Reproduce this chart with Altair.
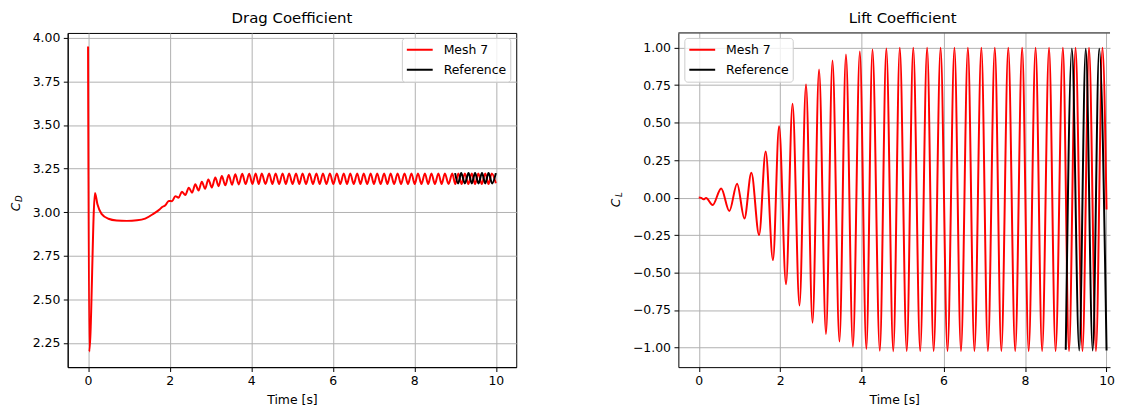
import altair as alt
import pandas as pd

FONT = "DejaVu Sans"

# ---------------- data ----------------
series_names = ["Mesh 7", "Reference"]
series_colors = ["#ff0000", "#000000"]

x_ticks = [0, 2, 4, 6, 8, 10]
drag_ticks = [2.25, 2.50, 2.75, 3.00, 3.25, 3.50, 3.75, 4.00]
lift_ticks = [-1.00, -0.75, -0.50, -0.25, 0.00, 0.25, 0.50, 0.75, 1.00]

# Drag coefficient, Mesh 7: turning points of the curve (time [s])
drag_time = [
    0.00, 0.03, 0.17, 0.23, 0.33, 0.50, 0.70, 0.95, 1.20, 1.40, 1.60, 1.76,
    1.81, 1.895, 1.98, 2.06, 2.14, 2.22, 2.30, 2.385, 2.47, 2.55,
    2.63, 2.71, 2.79, 2.87, 2.95, 3.035, 3.12, 3.20, 3.28, 3.365,
    3.45, 3.53, 3.61, 3.695, 3.78, 3.865, 3.95, 4.03, 4.11, 4.185,
    4.26, 4.35, 4.44, 4.52, 4.60, 4.685, 4.77, 4.85, 4.93, 5.015,
    5.10, 5.18, 5.26, 5.345, 5.43, 5.515, 5.60, 5.68, 5.76, 5.845,
    5.93, 6.015, 6.10, 6.185, 6.27, 6.35, 6.43, 6.515, 6.60, 6.68,
    6.76, 6.845, 6.93, 7.01, 7.09, 7.175, 7.26, 7.34, 7.42, 7.505,
    7.59, 7.675, 7.76, 7.845, 7.93, 8.01, 8.09, 8.175, 8.26, 8.34,
    8.42, 8.505, 8.59, 8.67, 8.75, 8.84, 8.93, 9.005, 9.08, 9.16,
    9.24, 9.325, 9.41, 9.49, 9.57, 9.655, 9.74, 9.82, 9.90, 10.00,
]
drag_mesh7 = [
    3.95, 2.20, 3.11, 3.045, 2.99, 2.962, 2.952, 2.950, 2.953, 2.963, 2.99, 3.017,
    3.028, 3.039, 3.064, 3.063, 3.092, 3.083, 3.117, 3.099, 3.140, 3.112,
    3.160, 3.124, 3.175, 3.134, 3.188, 3.142, 3.199, 3.149, 3.207, 3.154,
    3.213, 3.157, 3.217, 3.159, 3.220, 3.161, 3.221, 3.162, 3.222, 3.162,
    3.222, 3.162, 3.222, 3.162, 3.222, 3.162, 3.222, 3.162, 3.222, 3.162,
    3.222, 3.162, 3.222, 3.162, 3.222, 3.162, 3.222, 3.162, 3.222, 3.162,
    3.222, 3.162, 3.222, 3.162, 3.222, 3.162, 3.222, 3.162, 3.222, 3.162,
    3.222, 3.162, 3.222, 3.162, 3.222, 3.162, 3.222, 3.162, 3.222, 3.162,
    3.222, 3.162, 3.222, 3.162, 3.222, 3.162, 3.222, 3.162, 3.222, 3.162,
    3.222, 3.162, 3.222, 3.162, 3.222, 3.162, 3.222, 3.162, 3.222, 3.162,
    3.222, 3.162, 3.222, 3.162, 3.222, 3.162, 3.222, 3.162, 3.222, 3.166,
]

# Drag coefficient, Reference (9 s - 10 s)
drag_ref_time = [9.00, 9.075, 9.15, 9.24, 9.33, 9.41, 9.49, 9.575, 9.66, 9.74, 9.82, 9.91, 10.00]
drag_ref = [3.224, 3.165, 3.224, 3.165, 3.224, 3.165, 3.224, 3.165, 3.224, 3.165, 3.224, 3.165, 3.224]

# Lift coefficient, Mesh 7: turning points
lift_time = [
    0.00, 0.06, 0.115, 0.18,
    0.34, 0.55, 0.75, 0.94, 1.12, 1.29, 1.48, 1.64, 1.82, 1.97,
    2.14, 2.30, 2.47, 2.63, 2.79, 2.95, 3.12, 3.28, 3.45, 3.61,
    3.78, 3.95, 4.11, 4.26, 4.44, 4.60, 4.77, 4.93, 5.10, 5.26,
    5.43, 5.60, 5.76, 5.93, 6.10, 6.27, 6.43, 6.60, 6.76, 6.93,
    7.09, 7.26, 7.42, 7.59, 7.76, 7.93, 8.09, 8.26, 8.42, 8.59,
    8.75, 8.93, 9.08, 9.24, 9.41, 9.57, 9.74, 9.90, 10.00,
]
lift_mesh7 = [
    0.000, -0.002, -0.012, -0.003,
    -0.050, 0.061, -0.090, 0.092, -0.140, 0.165, -0.250, 0.308, -0.417, 0.475,
    -0.578, 0.626, -0.720, 0.755, -0.835, 0.855, -0.910, 0.915, -0.960, 0.955,
    -0.995, 0.975, -1.010, 0.988, -1.022, 0.995, -1.025, 1.000, -1.025, 1.000,
    -1.025, 1.000, -1.025, 1.000, -1.025, 1.000, -1.025, 1.000, -1.025, 1.000,
    -1.025, 1.000, -1.025, 1.000, -1.025, 1.000, -1.025, 1.000, -1.025, 1.000,
    -1.025, 1.000, -1.025, 1.000, -1.025, 1.000, -1.025, 1.000, -0.080,
]

# Lift coefficient, Reference (9 s - 10 s)
lift_ref_time = [9.00, 9.15, 9.33, 9.49, 9.66, 9.82, 10.00]
lift_ref = [-1.015, 0.993, -1.020, 0.993, -1.020, 0.993, -1.020]

assert len(drag_time) == len(drag_mesh7)
assert len(lift_time) == len(lift_mesh7)

drag_mesh_df = pd.DataFrame({"t": drag_time, "v": drag_mesh7, "series": series_names[0]})
drag_ref_df = pd.DataFrame({"t": drag_ref_time, "v": drag_ref, "series": series_names[1]})
lift_mesh_df = pd.DataFrame({"t": lift_time, "v": lift_mesh7, "series": series_names[0]})
lift_ref_df = pd.DataFrame({"t": lift_ref_time, "v": lift_ref, "series": series_names[1]})

LINE_W = 2.0
LABEL_FS = 12.5
PX_PER_S = 41.0      # matplotlib axes: 451 px for 11 s
FULL_W = 451


def panel(mesh_df, ref_df, title, width, ydomain, yticks, legend_x, legend_y,
          sub, label_x, label_y, full_frame):
    xmax = -0.5 + width / PX_PER_S
    xs = alt.X("t:Q", scale=alt.Scale(domain=[-0.5, xmax], nice=False, zero=False),
               axis=alt.Axis(values=x_ticks, format="d", title="Time [s]"))
    ys = alt.Y("v:Q", scale=alt.Scale(domain=ydomain, nice=False, zero=False),
               axis=alt.Axis(values=yticks, format=".2f", title=None))
    legend = alt.Legend(
        title=None, orient="none", legendX=legend_x, legendY=legend_y,
        symbolType="stroke", symbolSize=676, symbolStrokeWidth=LINE_W,
        labelFont=FONT, labelFontSize=LABEL_FS, labelColor="black",
        labelOffset=10, rowPadding=4, clipHeight=16, padding=4,
        fillColor="rgba(255,255,255,0.8)", strokeColor="#cccccc", cornerRadius=3,
    )
    color = alt.Color("series:N", scale=alt.Scale(domain=series_names, range=series_colors),
                      legend=legend)
    mesh = alt.Chart(mesh_df).mark_line(interpolate="monotone", strokeWidth=LINE_W).encode(
        x=xs, y=ys, color=color)
    ref = alt.Chart(ref_df).mark_line(interpolate="monotone", strokeWidth=LINE_W).encode(
        x=xs, y=ys, color=color)
    one = pd.DataFrame({"k": [0]})
    c_txt = alt.Chart(one).mark_text(
        text="C", font=FONT, fontSize=LABEL_FS, fontStyle="italic", angle=270,
        align="center", baseline="middle", color="black").encode(
        x=alt.value(label_x), y=alt.value(label_y))
    s_txt = alt.Chart(one).mark_text(
        text=sub, font=FONT, fontSize=LABEL_FS * 0.7, fontStyle="italic", angle=270,
        align="center", baseline="middle", color="black").encode(
        x=alt.value(label_x + 3), y=alt.value(label_y - 8.5))
    t_txt = alt.Chart(one).mark_text(
        text=title, font=FONT, fontSize=15, align="center", baseline="alphabetic",
        color="black").encode(x=alt.value(FULL_W / 2), y=alt.value(-10.5))
    layers = [mesh, ref, c_txt, s_txt, t_txt]
    if not full_frame:
        top = alt.Chart(pd.DataFrame({"v": [ydomain[1]]})).mark_rule(
            color="black", strokeWidth=1).encode(y="v:Q")
        layers.append(top)
    ch = alt.layer(*layers).properties(width=width, height=336)
    if not full_frame:
        ch = ch.properties(view=alt.ViewBackground(stroke="transparent"))
    return ch


left = panel(drag_mesh_df, drag_ref_df, "Drag Coefficient", FULL_W,
             [2.111, 4.028], drag_ticks, 336, 5, "D", -52, 175, True)
right = panel(lift_mesh_df, lift_ref_df, "Lift Coefficient", 434,
              [-1.131, 1.098], lift_ticks, 6, 5, "L", -63, 171, False)

chart = alt.hconcat(left, right, spacing=92).resolve_legend(color="independent").properties(
    padding={"left": 1, "top": 1, "right": 0, "bottom": 0}
).configure_axis(
    labelFont=FONT, labelFontSize=LABEL_FS, labelColor="black",
    titleFont=FONT, titleFontSize=LABEL_FS, titleColor="black", titleFontWeight="normal",
    tickColor="black", tickSize=4.4, tickWidth=1,
    domainColor="black", domainWidth=1,
    grid=True, gridColor="#b0b0b0", gridWidth=1, gridOpacity=1,
    labelPadding=3.5, titlePadding=6,
).configure_view(
    stroke="black", strokeWidth=1,
)

chart.save("out.html", embed_options={"renderer": "svg", "actions": False})
